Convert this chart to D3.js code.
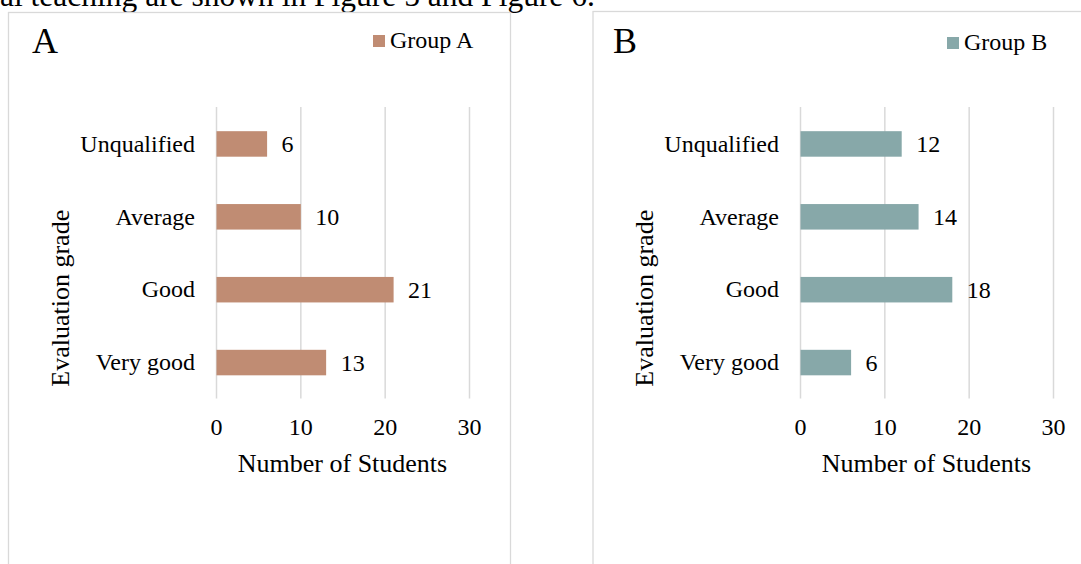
<!DOCTYPE html>
<html>
<head>
<meta charset="utf-8">
<script src="https://cdn.jsdelivr.net/npm/d3@7"></script>
<style>
  body { margin: 0; background: #fff; }
  svg { display: block; font-family: "Liberation Serif", "Times New Roman", serif; }
</style>
</head>
<body>
<div id="chart"></div>
<script>
/* data */
var categories = ["Unqualified", "Average", "Good", "Very good"];
var groupA = [6, 10, 21, 13];
var groupB = [12, 14, 18, 6];
var xTicks = [0, 10, 20, 30];
var seriesNames = ["Group A", "Group B"];
var panelLetters = ["A", "B"];

var W = 1081, H = 564;

var svg = d3.select("#chart").append("svg")
  .attr("width", W)
  .attr("height", H);

/* cut-off line of body text above the figures */
svg.append("text")
  .attr("x", 0)
  .attr("y", 6)
  .attr("font-size", "31.5px")
  .attr("fill", "#000")
  .text("al teaching are shown in Figure 5 and Figure 6.");

/* panel layout (pixels) */
var panels = [
  { left: 8.5, top: 12.5, plotL: 216, plotR: 469, color: "#c08c73", values: groupA,
    legX: 373, legY: 35, letterX: 32 },
  { left: 593, top: 11.5, plotL: 800, plotR: 1053, color: "#87a8a9", values: groupB,
    legX: 947, legY: 37, letterX: 613 }
];
var plotTop = 107.5, plotBottom = 399;

panels.forEach(function(p, i) {
  var g = svg.append("g");

  // frame
  g.append("rect")
    .attr("x", p.left).attr("y", p.top)
    .attr("width", 502).attr("height", 600)
    .attr("fill", "none")
    .attr("stroke", "#d9d9d9")
    .attr("stroke-width", 1.3);

  // scales
  var x = d3.scaleLinear().domain([0, 30]).range([p.plotL, p.plotR]);
  var y = d3.scaleBand().domain(categories).range([plotTop, plotBottom])
    .paddingInner(0.65).paddingOuter(0.325);

  // x axis with gridlines
  var xAxis = g.append("g")
    .attr("transform", "translate(0," + (plotBottom - 0.5) + ")")
    .call(d3.axisBottom(x).tickValues(xTicks)
      .tickSize(-(plotBottom - plotTop)).tickPadding(19.5));
  xAxis.select(".domain").remove();
  xAxis.selectAll(".tick line").attr("stroke", "#d9d9d9").attr("stroke-width", 1.5);
  xAxis.selectAll(".tick text")
    .attr("font-family", "Liberation Serif, Times New Roman, serif")
    .attr("font-size", "24px").attr("fill", "#000");

  // bars
  g.selectAll("rect.bar").data(p.values)
    .enter().append("rect")
      .attr("class", "bar")
      .attr("x", x(0) + 0.5)
      .attr("y", function(d, j) { return y(categories[j]); })
      .attr("width", function(d) { return x(d) - x(0); })
      .attr("height", y.bandwidth())
      .attr("fill", p.color);

  // y axis labels
  var yAxis = g.append("g")
    .attr("transform", "translate(" + p.plotL + ",0)")
    .call(d3.axisLeft(y).tickSize(0).tickPadding(21));
  yAxis.select(".domain").remove();
  yAxis.selectAll(".tick text")
    .attr("font-family", "Liberation Serif, Times New Roman, serif")
    .attr("font-size", "24px").attr("fill", "#000");

  // value labels
  g.selectAll("text.val").data(p.values)
    .enter().append("text")
      .attr("class", "val")
      .attr("x", function(d) { return x(d) + 15; })
      .attr("y", function(d, j) { return y(categories[j]) + y.bandwidth() / 2; })
      .attr("dy", "0.35em")
      .attr("font-size", "24px")
      .text(function(d) { return d; });

  // axis titles
  g.append("text")
    .attr("x", (p.plotL + p.plotR) / 2)
    .attr("y", 472)
    .attr("text-anchor", "middle")
    .attr("font-size", "26px")
    .text("Number of Students");

  g.append("text")
    .attr("transform", "translate(" + (p.plotL - 147) + "," + ((plotTop + plotBottom) / 2 + 45) + ") rotate(-90)")
    .attr("text-anchor", "middle")
    .attr("font-size", "26px")
    .text("Evaluation grade");

  // panel letter
  g.append("text")
    .attr("x", p.letterX)
    .attr("y", 53)
    .attr("font-size", "36px")
    .text(panelLetters[i]);

  // legend
  g.append("rect")
    .attr("x", p.legX).attr("y", p.legY)
    .attr("width", 12).attr("height", 12)
    .attr("fill", p.color);
  g.append("text")
    .attr("x", p.legX + 17)
    .attr("y", p.legY + 13)
    .attr("font-size", "24px")
    .text(seriesNames[i]);
});
</script>
</body>
</html>
